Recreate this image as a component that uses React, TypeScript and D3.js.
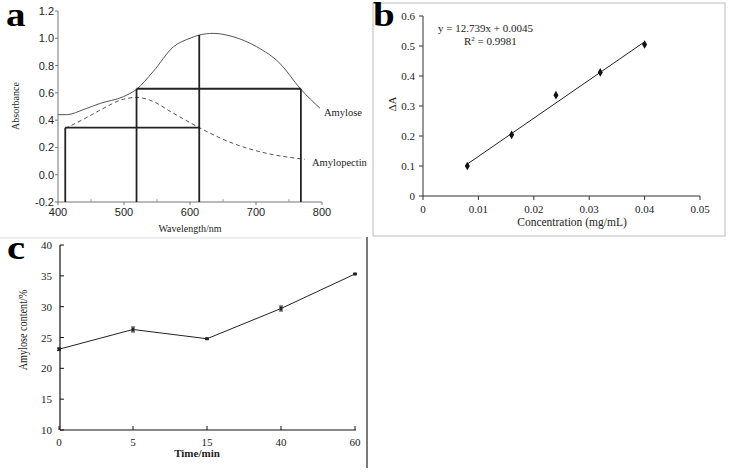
import React from "react";
import * as d3 from "d3";

// Panel a data
const amyloseWl = [400, 413, 440, 464, 499, 519, 544, 575, 600, 614, 635, 665, 701, 736, 768, 797];
const amyloseAbs = [0.44, 0.44, 0.48, 0.523, 0.572, 0.626, 0.755, 0.938, 1.0, 1.024, 1.036, 1.012, 0.938, 0.817, 0.626, 0.487];
const amylopectinWl = [411, 440, 464, 499, 519, 539, 575, 614, 665, 716, 774];
const amylopectinAbs = [0.34, 0.41, 0.474, 0.553, 0.567, 0.547, 0.45, 0.345, 0.23, 0.157, 0.113];
const aXTicks = [400, 500, 600, 700, 800];
const aYTicks = [-0.2, 0.0, 0.2, 0.4, 0.6, 0.8, 1.0, 1.2];
const guideX = [411, 519, 614, 768];
const guideY = [0.345, 0.63, 1.024];

// Panel b data
const concX = [0.008, 0.016, 0.024, 0.032, 0.04];
const deltaA = [0.1, 0.204, 0.336, 0.412, 0.505];
const bXTicks = [0, 0.01, 0.02, 0.03, 0.04, 0.05];
const bYTicks = [0, 0.1, 0.2, 0.3, 0.4, 0.5, 0.6];
const slope = 12.739;
const intercept = 0.0045;

// Panel c data
const timeCats = ["0", "5", "15", "40", "60"];
const amyContent = [23.1, 26.3, 24.8, 29.7, 35.3];
const amyErr = [0.2, 0.4, 0.1, 0.4, 0.1];
const cYTicks = [10, 15, 20, 25, 30, 35, 40];

const sans = "'Liberation Sans', Arial, sans-serif";
const serif = "'Liberation Serif', 'Times New Roman', serif";

function PanelA() {
  const x = d3.scaleLinear().domain([400, 800]).range([58, 322]);
  const y = d3.scaleLinear().domain([-0.2, 1.2]).range([202, 11]);
  const line = d3.line<[number, number]>().x(d => x(d[0])).y(d => y(d[1])).curve(d3.curveMonotoneX);
  const amy = line(amyloseWl.map((w, i) => [w, amyloseAbs[i]]));
  const apc = line(amylopectinWl.map((w, i) => [w, amylopectinAbs[i]]));
  const [x1, x2, x3, x4] = guideX;
  const [yA, yB, yC] = guideY;
  const minor = [450, 550, 650, 750];
  return (
    <g>
      <text x={6} y={26} fontFamily={serif} fontWeight="bold" fontSize={34} transform="translate(6,0) scale(1.15,1) translate(-6,0)">a</text>
      <line x1={58} x2={58} y1={11} y2={202} stroke="#777" strokeWidth={1} />
      <line x1={58} x2={322} y1={202} y2={202} stroke="#777" strokeWidth={1} />
      {aYTicks.map(t => (
        <g key={t}>
          <line x1={55} x2={58} y1={y(t)} y2={y(t)} stroke="#777" />
          <text x={54} y={y(t) + 4} textAnchor="end" fontFamily={sans} fontSize={11} fill="#222">{t.toFixed(1)}</text>
        </g>
      ))}
      {aXTicks.map(t => (
        <g key={t}>
          <line x1={x(t)} x2={x(t)} y1={202} y2={205} stroke="#777" />
          <text x={x(t)} y={216} textAnchor="middle" fontFamily={sans} fontSize={11} fill="#222">{t}</text>
        </g>
      ))}
      {minor.map(t => (
        <line key={t} x1={x(t)} x2={x(t)} y1={202} y2={199} stroke="#999" />
      ))}
      <path d={amy || ""} fill="none" stroke="#555" strokeWidth={1} />
      <path d={apc || ""} fill="none" stroke="#555" strokeWidth={1} strokeDasharray="4,3" />
      <g stroke="#222" strokeWidth={1.8} fill="none">
        <line x1={x(x1)} x2={x(x1)} y1={y(-0.2)} y2={y(yA)} />
        <line x1={x(x1)} x2={x(x3)} y1={y(yA)} y2={y(yA)} />
        <line x1={x(x2)} x2={x(x2)} y1={y(-0.2)} y2={y(yB)} />
        <line x1={x(x2)} x2={x(x4)} y1={y(yB)} y2={y(yB)} />
        <line x1={x(x3)} x2={x(x3)} y1={y(-0.2)} y2={y(yC)} />
        <line x1={x(x4)} x2={x(x4)} y1={y(-0.2)} y2={y(yB)} />
      </g>
      <text x={324} y={116} fontFamily={serif} fontSize={10.5} fill="#222">Amylose</text>
      <text x={312} y={166} fontFamily={serif} fontSize={10.5} fill="#222">Amylopectin</text>
      <text x={190} y={232} textAnchor="middle" fontFamily={serif} fontSize={10} fill="#222">Wavelength/nm</text>
      <text transform="translate(19,106) rotate(-90)" textAnchor="middle" fontFamily={serif} fontSize={10} fill="#222">Absorbance</text>
      <line x1={0} x2={362} y1={238} y2={238} stroke="#ddd" />
    </g>
  );
}

function PanelB() {
  const x = d3.scaleLinear().domain([0, 0.05]).range([423, 700]);
  const y = d3.scaleLinear().domain([0, 0.6]).range([196, 16]);
  const diamond = d3.symbol().type(d3.symbolDiamond).size(22)();
  const fitX = [concX[0], concX[concX.length - 1]];
  return (
    <g>
      <rect x={373} y={3} width={352} height={233} fill="none" stroke="#bbb" strokeWidth={1} />
      <text x={373} y={26} fontFamily={serif} fontWeight="bold" fontSize={34} transform="translate(373,0) scale(1.15,1) translate(-373,0)">b</text>
      <line x1={x(0)} x2={x(0)} y1={y(0.6)} y2={y(0)} stroke="#333" />
      <line x1={x(0)} x2={x(0.05)} y1={y(0)} y2={y(0)} stroke="#333" />
      {bYTicks.map(t => (
        <g key={t}>
          <line x1={x(0) - 4} x2={x(0)} y1={y(t)} y2={y(t)} stroke="#333" />
          <text x={415} y={y(t) + 4} textAnchor="end" fontFamily={serif} fontSize={11} fill="#222">{t === 0 ? "0" : t.toFixed(1)}</text>
        </g>
      ))}
      {bXTicks.map(t => (
        <g key={t}>
          <line x1={x(t)} x2={x(t)} y1={y(0)} y2={y(0) + 4} stroke="#333" />
          <text x={x(t)} y={213} textAnchor="middle" fontFamily={serif} fontSize={11} fill="#222">{t === 0 ? "0" : String(t)}</text>
        </g>
      ))}
      <line x1={x(fitX[0])} x2={x(fitX[1])} y1={y(slope * fitX[0] + intercept)} y2={y(slope * fitX[1] + intercept)} stroke="#222" strokeWidth={1} />
      {concX.map((c, i) => (
        <path key={i} d={diamond || ""} transform={`translate(${x(c)},${y(deltaA[i])})`} fill="#111" />
      ))}
      <text x={438} y={32} fontFamily={serif} fontSize={11} fill="#222">y = 12.739x + 0.0045</text>
      <text x={464} y={45} fontFamily={serif} fontSize={11} fill="#222">R<tspan dy={-4} fontSize={7}>2</tspan><tspan dy={4}> = 0.9981</tspan></text>
      <text x={572} y={226} textAnchor="middle" fontFamily={serif} fontSize={11.5} fill="#222">Concentration (mg/mL)</text>
      <text transform="translate(396,104) rotate(-90)" textAnchor="middle" fontFamily={serif} fontSize={11} fill="#222">ΔA</text>
    </g>
  );
}

function PanelC() {
  const x = d3.scalePoint<string>().domain(timeCats).range([59, 355]);
  const y = d3.scaleLinear().domain([10, 40]).range([430, 245]);
  const line = d3.line<number>().x((_, i) => x(timeCats[i]) as number).y(d => y(d));
  return (
    <g>
      <text x={7} y={259} fontFamily={serif} fontWeight="bold" fontSize={34} transform="translate(7,0) scale(1.2,1) translate(-7,0)">c</text>
      <line x1={60} x2={60} y1={y(40)} y2={y(10)} stroke="#111" strokeWidth={1.2} />
      <line x1={60} x2={356} y1={y(10)} y2={y(10)} stroke="#111" strokeWidth={1.2} />
      {cYTicks.map(t => (
        <g key={t}>
          <line x1={60} x2={64} y1={y(t)} y2={y(t)} stroke="#111" />
          <text x={52} y={y(t) + 4} textAnchor="end" fontFamily={serif} fontSize={11} fill="#222">{t}</text>
        </g>
      ))}
      {timeCats.map(c => (
        <g key={c}>
          <line x1={x(c)} x2={x(c)} y1={y(10)} y2={y(10) - 4} stroke="#111" />
          <text x={x(c)} y={446} textAnchor="middle" fontFamily={serif} fontSize={11} fill="#222">{c}</text>
        </g>
      ))}
      <path d={line(amyContent) || ""} fill="none" stroke="#222" strokeWidth={1} />
      {amyContent.map((v, i) => {
        const cx = x(timeCats[i]) as number;
        return (
          <g key={i} stroke="#222">
            <line x1={cx} x2={cx} y1={y(v + amyErr[i])} y2={y(v - amyErr[i])} />
            <line x1={cx - 2} x2={cx + 2} y1={y(v + amyErr[i])} y2={y(v + amyErr[i])} />
            <line x1={cx - 2} x2={cx + 2} y1={y(v - amyErr[i])} y2={y(v - amyErr[i])} />
            <rect x={cx - 1.5} y={y(v) - 1.5} width={3} height={3} fill="#222" stroke="none" />
          </g>
        );
      })}
      <text x={197} y={457} textAnchor="middle" fontFamily={serif} fontWeight="bold" fontSize={11} fill="#222">Time/min</text>
      <text transform="translate(27,330) rotate(-90) scale(0.85,1)" textAnchor="middle" fontFamily={serif} fontSize={12} fill="#222">Amylose content/%</text>
      <line x1={367} x2={367} y1={237} y2={468} stroke="#222" strokeWidth={1.2} />
    </g>
  );
}

export default function App() {
  return (
    <svg width={731} height={473} style={{ position: "absolute", left: 0, top: 0, background: "#fff" }}>
      <rect width={731} height={473} fill="#fff" />
      <PanelA />
      <PanelB />
      <PanelC />
    </svg>
  );
}
